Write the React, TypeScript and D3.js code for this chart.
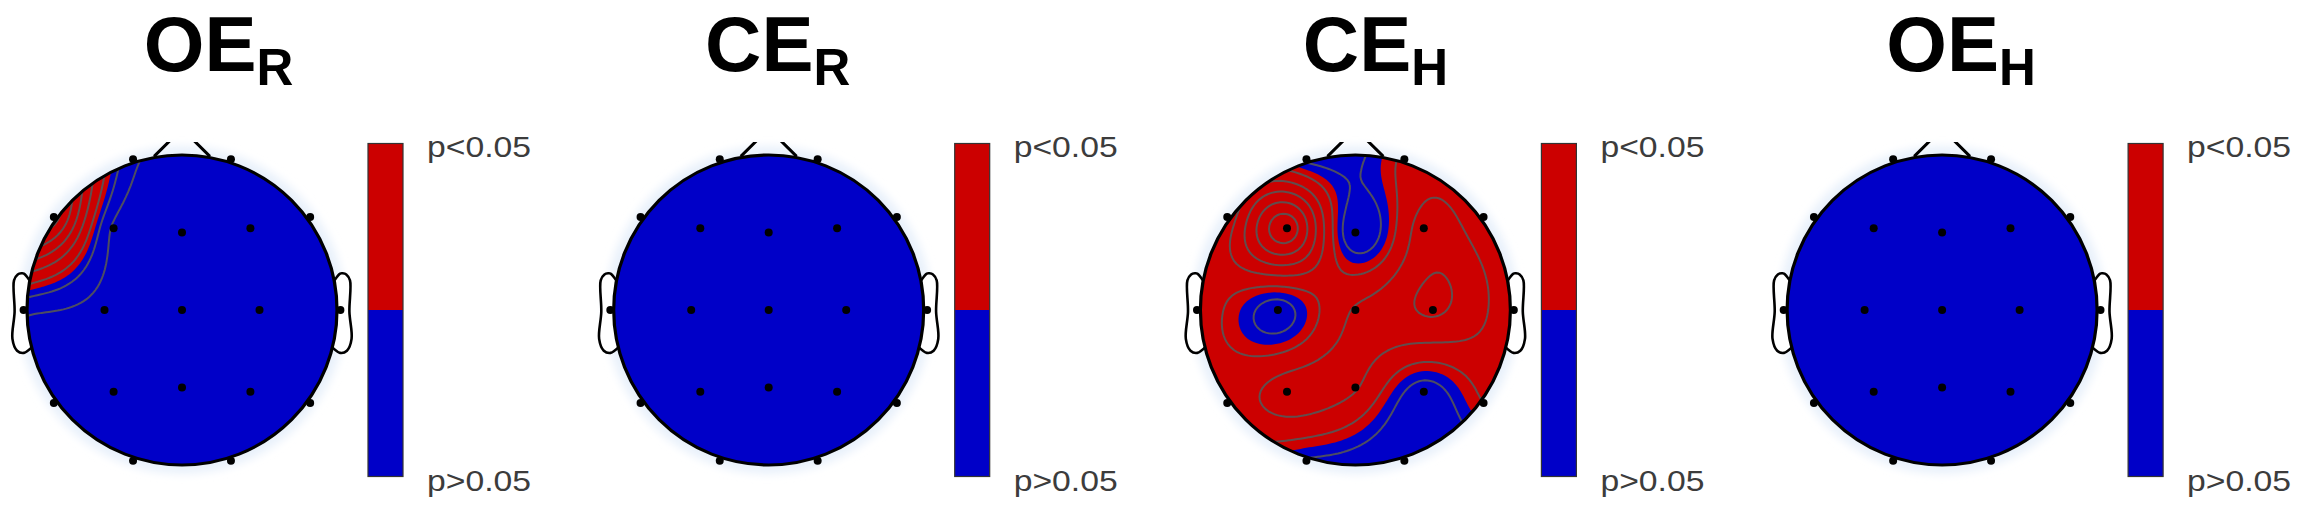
import React, { useMemo } from 'react';
import * as d3 from 'd3';

// ---------- data ----------
const CHANNELS = ['Fp1', 'Fp2', 'F7', 'F3', 'Fz', 'F4', 'F8', 'T3', 'C3', 'Cz', 'C4', 'T4', 'T5', 'P3', 'Pz', 'P4', 'T6', 'O1', 'O2'];
// EEGLAB polar montage (theta in degrees from nose, clockwise; radius with head rim = 0.5)
const CHANNEL_THETA = [-18, 18, -54, -39.9, 0, 39.9, 54, -90, -90, 0, 90, 90, -126, -140.1, 180, 140.1, 126, -162, 162];
const CHANNEL_RADIUS = [0.511, 0.511, 0.511, 0.344, 0.25, 0.344, 0.511, 0.511, 0.25, 0, 0.25, 0.511, 0.511, 0.344, 0.25, 0.344, 0.511, 0.511, 0.511];

const CONDITION_NAMES = ['OE', 'CE', 'CE', 'OE'];
const CONDITION_SUBS = ['R', 'R', 'H', 'H'];

// significance index per channel (>= 0.5 means p<0.05)
const VALUES_OE_R = [0.38, 0.31, 1.0, 0.33, 0.31, 0.31, 0.31, 0.38, 0.31, 0.31, 0.31, 0.31, 0.31, 0.31, 0.31, 0.31, 0.31, 0.31, 0.31];
const VALUES_CE_R = [0.2, 0.2, 0.2, 0.2, 0.2, 0.2, 0.2, 0.2, 0.2, 0.2, 0.2, 0.2, 0.2, 0.2, 0.2, 0.2, 0.2, 0.2, 0.2];
const VALUES_CE_H = [0.43, 0.57, 0.58, 1.02, 0.37, 0.7, 0.56, 0.6, 0.4, 0.66, 0.765, 0.58, 0.6, 0.7, 0.66, 0.4, 0.55, 0.44, 0.35];
const VALUES_OE_H = [0.2, 0.2, 0.2, 0.2, 0.2, 0.2, 0.2, 0.2, 0.2, 0.2, 0.2, 0.2, 0.2, 0.2, 0.2, 0.2, 0.2, 0.2, 0.2];
const PANEL_VALUES = [VALUES_OE_R, VALUES_CE_R, VALUES_CE_H, VALUES_OE_H];

const SIG_LEVEL = 0.5;
const CONTOUR_LEVELS = [0.15, 0.25, 0.35, 0.45, 0.55, 0.65, 0.75, 0.85, 0.95];
const COLORBAR_LABELS = ['p<0.05', 'p>0.05'];

// ---------- layout ----------
const W = 2307;
const H = 512;
const R = 155;
const CY = 310;
const PANEL_X0 = 182;
const PANEL_STEP = 586.7;
const TITLE_DX = [36.5, 9, 20, 19];
const GRID_N = 121;
const GRID_EXT = 0.56;
const RED = '#cc0000';
const BLUE = '#0000c8';

const EAR_X = [0.492, 0.51, 0.518, 0.5299, 0.5419, 0.54, 0.547, 0.532, 0.51, 0.484];
const EAR_Y = [0.0955, 0.1175, 0.1183, 0.1146, 0.0955, -0.0055, -0.0932, -0.1313, -0.1384, -0.1199];

function solve(A: number[][], b: number[]): number[] {
  const n = b.length;
  const M = A.map((row, i) => [...row, b[i]]);
  for (let c = 0; c < n; c++) {
    let p = c;
    for (let r = c + 1; r < n; r++) if (Math.abs(M[r][c]) > Math.abs(M[p][c])) p = r;
    const tmp = M[c]; M[c] = M[p]; M[p] = tmp;
    for (let r = 0; r < n; r++) {
      if (r === c) continue;
      const f = M[r][c] / M[c][c];
      if (f === 0) continue;
      for (let k = c; k <= n; k++) M[r][k] -= f * M[c][k];
    }
  }
  return M.map((row, i) => row[n] / row[i]);
}

const chanX = CHANNEL_THETA.map((t, i) => CHANNEL_RADIUS[i] * Math.sin((t * Math.PI) / 180));
const chanY = CHANNEL_THETA.map((t, i) => -CHANNEL_RADIUS[i] * Math.cos((t * Math.PI) / 180));

function field(values: number[]): Float64Array {
  const mean = d3.mean(values) as number;
  const dev = values.map((v) => v - mean);
  const g = (d: number) => (d < 1e-12 ? 0 : d * d * (Math.log(d) - 1));
  const A = chanX.map((xi, i) => chanX.map((xj, j) => g(Math.hypot(xi - xj, chanY[i] - chanY[j]))));
  const allZero = dev.every((d) => Math.abs(d) < 1e-12);
  const w = allZero ? dev.map(() => 0) : solve(A, dev);
  const step = (2 * GRID_EXT) / (GRID_N - 1);
  const grid = new Float64Array(GRID_N * GRID_N);
  for (let j = 0; j < GRID_N; j++) {
    const y = -GRID_EXT + j * step;
    for (let i = 0; i < GRID_N; i++) {
      const x = -GRID_EXT + i * step;
      let s = mean;
      for (let k = 0; k < w.length; k++) s += w[k] * g(Math.hypot(x - chanX[k], y - chanY[k]));
      grid[j * GRID_N + i] = s;
    }
  }
  return grid;
}

function Panel({ index }: { index: number }) {
  const cx = PANEL_X0 + index * PANEL_STEP;
  const values = PANEL_VALUES[index];
  const { redPath, linePaths } = useMemo(() => {
    const grid = field(values);
    const step = (2 * GRID_EXT) / (GRID_N - 1);
    const k = step * 2 * R;
    const t = (-GRID_EXT - 0.5 * step) * 2 * R;
    const path = d3.geoPath(d3.geoIdentity().scale(k).translate([cx + t, CY + t]) as any);
    const arr = Array.from(grid);
    const red = d3.contours().size([GRID_N, GRID_N]).thresholds([SIG_LEVEL])(arr);
    const lines = d3.contours().size([GRID_N, GRID_N]).thresholds(CONTOUR_LEVELS)(arr);
    return {
      redPath: red.map((c) => path(c as any) || ''),
      linePaths: lines.map((c) => path(c as any) || ''),
    };
  }, [index]);

  const earLine = d3.line<number>().curve(d3.curveCatmullRom.alpha(0.5));
  const leftEar = earLine.x((_, i) => cx - EAR_X[i] * 2 * R).y((_, i) => CY - EAR_Y[i] * 2 * R)(EAR_X) as string;
  const rightEar = earLine.x((_, i) => cx + EAR_X[i] * 2 * R).y((_, i) => CY - EAR_Y[i] * 2 * R)(EAR_X) as string;

  const nose = d3.line()([
    [cx + 0.18 * R, CY - (1 - 0.0092) * R],
    [cx + 0.04 * R, CY - 1.13 * R],
    [cx, CY - 1.15 * R],
    [cx - 0.04 * R, CY - 1.13 * R],
    [cx - 0.18 * R, CY - (1 - 0.0092) * R],
  ]) as string;

  const barX = cx + 186;
  const barW = 35;
  const barTop = 143.5;
  const barBot = 476.5;
  const barMid = (barTop + barBot) / 2;
  const clipId = `head-clip-${index}`;
  const noseClip = `nose-clip-${index}`;
  const font = "'Liberation Sans', Arial, Helvetica, sans-serif";

  return (
    <g>
      <defs>
        <clipPath id={clipId}>
          <circle cx={cx} cy={CY} r={R} />
        </clipPath>
        <clipPath id={noseClip}>
          <rect x={cx - 60} y={CY - 1.084 * R} width={120} height={40} />
        </clipPath>
      </defs>
      <circle cx={cx} cy={CY} r={R + 9} fill="#e9f1fb" filter="url(#halo-blur)" />
      <path d={leftEar} fill="#ffffff" stroke="#000" strokeWidth={2.6} />
      <path d={rightEar} fill="#ffffff" stroke="#000" strokeWidth={2.6} />
      <g clipPath={`url(#${clipId})`}>
        <circle cx={cx} cy={CY} r={R} fill={BLUE} />
        {redPath.map((d, i) => (
          <path key={i} d={d} fill={RED} />
        ))}
        {linePaths.map((d, i) => (
          <path key={i} d={d} fill="none" stroke="#555555" strokeOpacity={0.9} strokeWidth={2} />
        ))}
      </g>
      <circle cx={cx} cy={CY} r={R} fill="none" stroke="#000" strokeWidth={3.2} />
      <path d={nose} fill="none" stroke="#000" strokeWidth={3} clipPath={`url(#${noseClip})`} />
      {CHANNELS.map((name, i) => (
        <circle key={name} cx={cx + chanX[i] * 2 * R} cy={CY + chanY[i] * 2 * R} r={4} fill="#000" />
      ))}
      <rect x={barX} y={barTop} width={barW} height={barMid - barTop} fill={RED} />
      <rect x={barX} y={barMid} width={barW} height={barBot - barMid} fill={BLUE} />
      <rect x={barX} y={barTop} width={barW} height={barBot - barTop} fill="none" stroke="#333" strokeWidth={1.2} />
      <text x={barX + barW + 24} y={157} fontSize={29} fill="#3c3c3c" textLength={104} lengthAdjust="spacingAndGlyphs"
        fontFamily={font}>{COLORBAR_LABELS[0]}</text>
      <text x={barX + barW + 24} y={491} fontSize={29} fill="#3c3c3c" textLength={104} lengthAdjust="spacingAndGlyphs"
        fontFamily={font}>{COLORBAR_LABELS[1]}</text>
      <text x={cx + TITLE_DX[index]} y={71} textAnchor="middle" fontSize={78} fontWeight="bold" fill="#000"
        fontFamily={font}>
        {CONDITION_NAMES[index]}
        <tspan fontSize={51} dy={14}>{CONDITION_SUBS[index]}</tspan>
      </text>
    </g>
  );
}

export default function App() {
  return (
    <svg width={W} height={H} viewBox={`0 0 ${W} ${H}`} style={{ position: 'absolute', left: 0, top: 0, background: '#fff' }}>
      <defs>
        <filter id="halo-blur" x="-20%" y="-20%" width="140%" height="140%">
          <feGaussianBlur stdDeviation={4} />
        </filter>
      </defs>
      <rect width={W} height={H} fill="#fff" />
      {PANEL_VALUES.map((_, i) => (
        <Panel key={i} index={i} />
      ))}
    </svg>
  );
}
